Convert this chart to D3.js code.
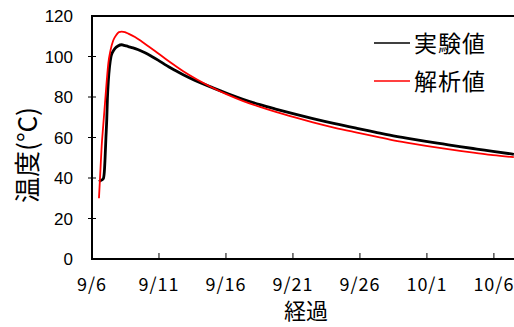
<!DOCTYPE html>
<html>
<head>
<meta charset="utf-8">
<script src="https://cdn.jsdelivr.net/npm/d3@7"></script>
<style>
  body { margin: 0; background: #fff; }
  svg { display: block; }
  .tick-label { font-family: "Liberation Sans", Arial, sans-serif; font-size: 17px; fill: #000; }
  .x-label { font-family: "Noto Sans CJK JP", sans-serif; font-size: 18px; fill: #000; }
  .title { font-family: "Noto Sans CJK JP", sans-serif; fill: #000; }
</style>
</head>
<body>
<script>
/*
 * Temperature over time: measured vs. analysed.
 */

const WIDTH = 514;
const HEIGHT = 327;
const LEFT = 92;
const TOP = 16;
const BOTTOM = 259;
const RIGHT = 514;

// days since 9/6 and temperature (°C)
const expDays = [0.52, 0.67, 0.84, 0.92, 0.97, 1.04, 1.10, 1.15, 1.22, 1.31, 1.42, 1.57, 1.72, 1.94,
  2.22, 2.39, 2.71, 3.06, 3.46, 3.96, 4.46, 4.93, 5.45, 6.19, 6.81, 7.69, 9.03, 10.15, 11.27, 12.54,
  13.78, 15.15, 16.49, 18.13, 19.78, 21.12, 22.24, 23.58, 24.93, 26.19, 27.46, 28.73, 29.93, 31.49];
const expTemps = [38.2, 38.8, 39.6, 43, 49, 60, 68.6, 79, 88, 95, 100, 102.5, 104, 105.2,
  105.8, 105.5, 104.9, 104.3, 103.3, 101.8, 100.0, 98.2, 96.0, 93.2, 91.0, 88.2, 84.5, 81.6, 78.9, 76.2,
  73.9, 71.5, 69.3, 66.8, 64.5, 62.7, 61.2, 59.6, 58.1, 56.8, 55.5, 54.3, 53.2, 51.7];

const anaDays = [0.52, 0.63, 0.72, 0.84, 0.97, 1.10, 1.22, 1.38, 1.59, 1.83, 2.01, 2.22, 2.46, 2.71,
  3.21, 3.71, 4.18, 4.70, 5.45, 6.19, 6.81, 7.84, 8.81, 10.07, 11.29, 12.54, 13.78, 15.15, 16.49,
  18.13, 19.78, 21.12, 22.24, 23.58, 24.93, 26.19, 27.46, 28.73, 29.93, 31.49];
const anaTemps = [30, 44, 55.5, 66, 77, 88, 96.7, 103, 108, 110.8, 112, 112.3, 112.0, 111.3,
  109.6, 107.4, 105.2, 102.7, 99.0, 95.5, 92.7, 88.6, 85.2, 81.3, 78.0, 75.1, 72.5, 69.9, 67.5,
  64.8, 62.4, 60.5, 59.0, 57.4, 55.9, 54.6, 53.4, 52.3, 51.3, 50.3];

const xTickDays = [0, 5, 10, 15, 20, 25, 30];
const xTickLabels = ['9/6', '9/11', '9/16', '9/21', '9/26', '10/1', '10/6'];
const yTicks = [0, 20, 40, 60, 80, 100, 120];

const seriesNames = ['実験値', '解析値'];
const seriesColors = ['#000', '#ff0000'];

const svg = d3.select('body')
  .append('svg')
    .attr('width', WIDTH)
    .attr('height', HEIGHT);

const x = d3.scaleLinear().domain([0, 31.5]).range([LEFT, RIGHT]);
const y = d3.scaleLinear().domain([0, 120]).range([BOTTOM, TOP]);

// plot frame
svg.append('path')
    .attr('d', `M${RIGHT},${TOP}H${LEFT}V${BOTTOM}H${RIGHT}`)
    .attr('fill', 'none')
    .attr('stroke', '#000')
    .attr('stroke-width', 2);

// y axis ticks and labels
const yAxis = svg.append('g');
yAxis.selectAll('line')
  .data(yTicks.slice(1, -1))
  .enter()
  .append('line')
    .attr('x1', LEFT - 4)
    .attr('x2', LEFT + 4)
    .attr('y1', d => y(d))
    .attr('y2', d => y(d))
    .attr('stroke', '#000')
    .attr('stroke-width', 1);
yAxis.selectAll('text')
  .data(yTicks)
  .enter()
  .append('text')
    .attr('class', 'tick-label')
    .attr('x', 73)
    .attr('y', d => y(d) + 6)
    .attr('text-anchor', 'end')
    .text(d => d);

// x axis ticks (inward) and labels
const xAxis = svg.append('g');
xAxis.selectAll('line')
  .data(xTickDays.slice(1))
  .enter()
  .append('line')
    .attr('x1', d => x(d))
    .attr('x2', d => x(d))
    .attr('y1', BOTTOM)
    .attr('y2', BOTTOM - 6)
    .attr('stroke', '#000')
    .attr('stroke-width', 1);
xAxis.selectAll('text')
  .data(xTickDays)
  .enter()
  .append('text')
    .attr('class', 'x-label')
    .attr('x', d => x(d))
    .attr('y', 291)
    .attr('text-anchor', 'middle')
    .style('letter-spacing', '1px')
    .text((d, i) => xTickLabels[i]);

// axis titles
svg.append('text')
    .attr('class', 'title')
    .attr('x', 306)
    .attr('y', 319)
    .attr('text-anchor', 'middle')
    .style('font-size', '22px')
    .text('経過');

svg.append('text')
    .attr('class', 'title')
    .attr('transform', 'translate(37,155) rotate(-90)')
    .attr('text-anchor', 'middle')
    .style('font-size', '26px')
    .text('温度(°C)');

// curves
const line = d3.line()
    .x(d => x(d[0]))
    .y(d => y(d[1]))
    .curve(d3.curveMonotoneX);

svg.append('clipPath')
    .attr('id', 'plot-clip')
  .append('rect')
    .attr('x', LEFT)
    .attr('y', TOP)
    .attr('width', RIGHT - LEFT)
    .attr('height', BOTTOM - TOP);

const series = [
  d3.zip(expDays, expTemps),
  d3.zip(anaDays, anaTemps)
];

svg.append('g')
    .attr('clip-path', 'url(#plot-clip)')
  .selectAll('path')
  .data(series)
  .enter()
  .append('path')
    .attr('d', line)
    .attr('fill', 'none')
    .attr('stroke', (d, i) => seriesColors[i])
    .attr('stroke-width', (d, i) => i === 0 ? 2.8 : 1.8)
    .attr('stroke-linejoin', 'round');

// legend
const legend = svg.append('g')
  .selectAll('g')
  .data(seriesNames)
  .enter()
  .append('g')
    .attr('transform', (d, i) => `translate(374, ${43 + i * 38})`);

legend.append('line')
    .attr('x1', 0)
    .attr('x2', 36)
    .attr('stroke', (d, i) => seriesColors[i])
    .attr('stroke-width', 1.5);

legend.append('text')
    .attr('class', 'title')
    .attr('x', 40)
    .attr('y', 9)
    .style('font-size', '23px')
    .style('letter-spacing', '1px')
    .text(d => d);
</script>
</body>
</html>
